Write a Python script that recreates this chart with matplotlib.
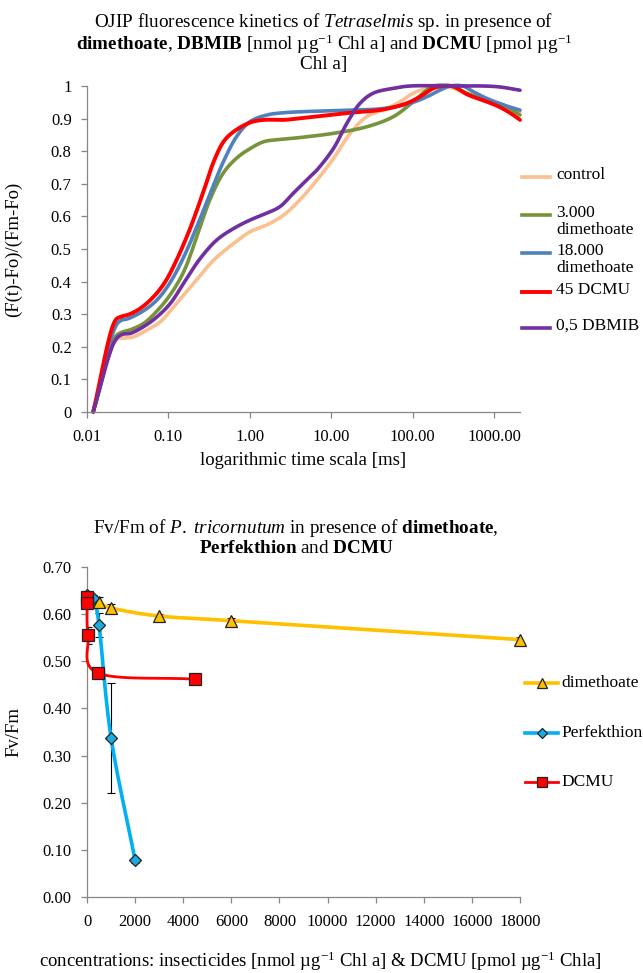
import numpy as np
import matplotlib
matplotlib.use('Agg')
import matplotlib.pyplot as plt
from matplotlib.lines import Line2D

plt.rcParams['font.family'] = ['Liberation Serif', 'DejaVu Serif']
plt.rcParams['mathtext.fontset'] = 'custom'
plt.rcParams['mathtext.rm'] = 'Liberation Serif'
plt.rcParams['mathtext.it'] = 'Liberation Serif:italic'
plt.rcParams['mathtext.bf'] = 'Liberation Serif:bold'

# OJIP curves (time in ms, normalised fluorescence)
t_control = [0.0119, 0.0224, 0.0271, 0.0377, 0.0548, 0.0798, 0.116, 0.205, 0.36, 0.634, 1.01, 1.62, 2.6,
             4.17, 6.7, 10.7, 17.1, 27.4, 48.3, 70.5, 102, 150, 219, 317, 550, 960, 1400, 2085]
f_control = [0, 0.221, 0.226, 0.231, 0.252, 0.277, 0.323, 0.395, 0.466, 0.517, 0.553, 0.574, 0.604,
             0.652, 0.712, 0.778, 0.855, 0.906, 0.931, 0.952, 0.978, 0.993, 1.0, 0.993, 0.967, 0.947, 0.937, 0.921]
t_dim3 = [0.0119, 0.0224, 0.0258, 0.034, 0.0498, 0.0726, 0.1056, 0.154, 0.225, 0.328, 0.478, 0.697, 1.01,
          1.48, 2.6, 4.17, 10.8, 27.4, 58.1, 102, 150, 180, 290, 462, 813, 1300, 2085]
f_dim3 = [0, 0.231, 0.243, 0.252, 0.272, 0.31, 0.36, 0.43, 0.54, 0.655, 0.735, 0.78, 0.808,
          0.829, 0.837, 0.842, 0.855, 0.875, 0.906, 0.952, 0.988, 1.0, 1.0, 0.978, 0.955, 0.942, 0.911]
t_dim18 = [0.0119, 0.0224, 0.0258, 0.0326, 0.0498, 0.0726, 0.1056, 0.154, 0.225, 0.328, 0.478, 0.697, 1.01,
           1.62, 2.6, 9.7, 17.1, 43.9, 93, 150, 219, 290, 415, 550, 813, 1300, 2085]
f_dim18 = [0, 0.262, 0.28, 0.287, 0.311, 0.344, 0.398, 0.475, 0.57, 0.672, 0.77, 0.847, 0.891,
           0.911, 0.918, 0.924, 0.926, 0.931, 0.947, 0.967, 0.988, 1.0, 1.0, 0.983, 0.962, 0.942, 0.926]
t_dcmu45 = [0.0119, 0.0224, 0.0258, 0.0326, 0.0453, 0.066, 0.0917, 0.128, 0.186, 0.271, 0.36, 0.478, 0.634,
            1.01, 1.48, 2.6, 4.17, 9.7, 17.1, 43.9, 84.8, 123, 180, 239, 317, 462, 813, 1185, 1727, 2085]
f_dcmu45 = [0, 0.282, 0.292, 0.299, 0.318, 0.354, 0.40, 0.47, 0.565, 0.678, 0.768, 0.83, 0.86,
            0.888, 0.896, 0.896, 0.901, 0.911, 0.918, 0.928, 0.947, 0.967, 0.993, 1.0, 0.999, 0.975, 0.952,
            0.935, 0.911, 0.896]
t_dbmib = [0.0119, 0.0224, 0.0271, 0.034, 0.0498, 0.0726, 0.1056, 0.154, 0.246, 0.394, 0.634, 1.01, 1.62,
           2.35, 3.42, 5.5, 6.66, 10.7, 15.6, 22.6, 32.8, 58.1, 93, 290, 740, 1185, 2085]
f_dbmib = [0, 0.221, 0.238, 0.241, 0.262, 0.292, 0.333, 0.395, 0.471, 0.528, 0.563, 0.589, 0.61,
           0.63, 0.671, 0.722, 0.742, 0.809, 0.886, 0.947, 0.978, 0.993, 1.0, 1.0, 1.0, 0.997, 0.987]
ojip_labels = ['control', '3.000\ndimethoate', '18.000\ndimethoate', '45 DCMU', '0,5 DBMIB']
time_ticks = [0.01, 0.1, 1, 10, 100, 1000]
time_ticklabels = ['0.01', '0.10', '1.00', '10.00', '100.00', '1000.00']

# Fv/Fm vs concentration
c_dim = [0, 500, 1000, 3000, 6000, 18000]
fvfm_dim = [0.635, 0.626, 0.613, 0.596, 0.586, 0.546]
err_dim = [0.005, 0.01, 0.008, 0.005, 0.005, 0.005]
c_perf = [0, 250, 500, 1000, 2000]
fvfm_perf = [0.64, 0.635, 0.577, 0.338, 0.078]
err_perf = [0.005, 0.006, 0.025, 0.117, 0.005]
c_dcmu = [0, 4.5, 45, 450, 4500]
fvfm_dcmu = [0.636, 0.624, 0.555, 0.475, 0.462]
err_dcmu = [0.01, 0.01, 0.018, 0.005, 0.005]
fv_labels = ['dimethoate', 'Perfekthion', 'DCMU']

W, H = 643, 973
fig = plt.figure(figsize=(W / 100, H / 100), dpi=100)

TICK_FS = 12
LAB_FS = 13.5
TITLE_FS = 13.8
LEG_FS = 12.5


def fx(px):
    return px / W


def fy(py):
    return 1 - py / H


def catmull(P, n=16, alpha=0.5):
    # Catmull-Rom like Excel's smoothed line, in pixel space (alpha 0 uniform, 0.5 centripetal)
    P = np.vstack([2 * P[0] - P[1], P, 2 * P[-1] - P[-2]])
    out = []
    for i in range(1, len(P) - 2):
        p0, p1, p2, p3 = P[i - 1], P[i], P[i + 1], P[i + 2]
        t0 = 0.0
        t1 = t0 + max(np.hypot(*(p1 - p0)), 1e-6) ** alpha
        t2 = t1 + max(np.hypot(*(p2 - p1)), 1e-6) ** alpha
        t3 = t2 + max(np.hypot(*(p3 - p2)), 1e-6) ** alpha
        t = np.linspace(t1, t2, n, endpoint=False)[:, None]
        a1 = (t1 - t) / (t1 - t0) * p0 + (t - t0) / (t1 - t0) * p1
        a2 = (t2 - t) / (t2 - t1) * p1 + (t - t1) / (t2 - t1) * p2
        a3 = (t3 - t) / (t3 - t2) * p2 + (t - t2) / (t3 - t2) * p3
        b1 = (t2 - t) / (t2 - t0) * a1 + (t - t0) / (t2 - t0) * a2
        b2 = (t3 - t) / (t3 - t1) * a2 + (t - t1) / (t3 - t1) * a3
        out.append((t2 - t) / (t2 - t1) * b1 + (t - t1) / (t2 - t1) * b2)
    out.append(P[-2][None])
    return np.vstack(out)


def smooth_line(ax, x, y, alpha=0.5, **kw):
    pts = ax.transData.transform(np.column_stack([x, y]))
    d = ax.transData.inverted().transform(catmull(pts, alpha=alpha))
    return ax.plot(d[:, 0], d[:, 1], **kw)


def style(ax):
    for s in ['top', 'right']:
        ax.spines[s].set_visible(False)
    for s in ['left', 'bottom']:
        ax.spines[s].set_color('#868686')
        ax.spines[s].set_linewidth(0.9)
    ax.tick_params(axis='both', direction='out', length=4, width=0.9, color='#868686',
                   labelsize=TICK_FS, labelcolor='black')
    ax.tick_params(axis='x', pad=8)
    ax.tick_params(axis='y', pad=7)


# ---------- top chart ----------
ax1 = fig.add_axes([fx(87), fy(412), fx(520) - fx(87), fy(86) - fy(412)])
ax1.set_xscale('log')
ax1.set_xlim(0.01, 2085)
ax1.set_ylim(0, 1)
style(ax1)
ax1.set_xticks(time_ticks)
ax1.set_xticklabels(time_ticklabels)
ax1.xaxis.set_minor_locator(matplotlib.ticker.NullLocator())
ax1.set_yticks(np.arange(0, 1.01, 0.1))
ax1.set_yticklabels(['0'] + ['%.1f' % v for v in np.arange(0.1, 0.95, 0.1)] + ['1'])

ojip = [(t_control, f_control, '#FAC090', 2.6),
        (t_dim3, f_dim3, '#77933C', 2.6),
        (t_dim18, f_dim18, '#4F81BD', 2.6),
        (t_dcmu45, f_dcmu45, '#FF0000', 2.8),
        (t_dbmib, f_dbmib, '#7030A0', 2.6)]
for t, f, c, lw in ojip:
    smooth_line(ax1, t, f, color=c, lw=lw, solid_capstyle='round', clip_on=False)

ax1.set_ylabel('(F(t)-Fo)/(Fm-Fo)', fontsize=LAB_FS)
ax1.yaxis.set_label_coords(-0.15, 0.5)
ax1.set_xlabel('logarithmic time scala [ms]', fontsize=LAB_FS)
ax1.xaxis.set_label_coords(0.5, -0.122)

fig.text(fx(324), fy(11),
         'OJIP fluorescence kinetics of $\\mathit{Tetraselmis}$ sp. in presence of\n'
         '$\\mathbf{dimethoate}$, $\\mathbf{DBMIB}$ [nmol µg$^{-1}$ Chl a] and $\\mathbf{DCMU}$ [pmol µg$^{-1}$\n'
         'Chl a]', ha='center', va='top', fontsize=TITLE_FS, linespacing=0.98)

leg_y = [177, 215, 253, 292, 328]
for (t, f, c, lw), lab, yy in zip(ojip, ojip_labels, leg_y):
    fig.add_artist(Line2D([fx(522), fx(550)], [fy(yy), fy(yy)], color=c, lw=lw))
    fig.text(fx(556), fy(yy - 10), lab, ha='left', va='top', fontsize=LEG_FS, linespacing=1.1)

# ---------- bottom chart ----------
ax2 = fig.add_axes([fx(87), fy(897), fx(520) - fx(87), fy(567) - fy(897)])
ax2.set_xlim(0, 18000)
ax2.set_ylim(0, 0.7)
style(ax2)
ax2.set_xticks(np.arange(0, 18001, 2000))
ax2.set_yticks(np.arange(0, 0.71, 0.1))
ax2.yaxis.set_major_formatter(matplotlib.ticker.FormatStrFormatter('%.2f'))

series = [(c_dim, fvfm_dim, err_dim, '#FFC000', '#FFC000', '^', 8.5, 2.6),
          (c_perf, fvfm_perf, err_perf, '#00B0F0', '#1FA9E1', 'D', 6, 2.6),
          (c_dcmu, fvfm_dcmu, err_dcmu, '#FF0000', '#FF0000', 's', 8.5, 2.0)]
for x, y, e, lc, mc, mk, ms, lw in series:
    ax2.errorbar(x, y, yerr=e, fmt='none', ecolor='black', elinewidth=0.8, capsize=3, capthick=0.8, zorder=2)
    smooth_line(ax2, x, y, alpha=0.0, color=lc, lw=lw, zorder=3, clip_on=False)
    ax2.plot(x, y, ls='none', marker=mk, ms=ms, mfc=mc, mec='#222222', mew=0.9, zorder=4, clip_on=False)

ax2.set_ylabel('Fv/Fm', fontsize=LAB_FS)
ax2.yaxis.set_label_coords(-0.15, 0.5)
ax2.set_xlabel('concentrations: insecticides [nmol µg$^{-1}$ Chl a] & DCMU [pmol µg$^{-1}$ Chla]', fontsize=LAB_FS)
ax2.xaxis.set_label_coords(0.54, -0.16)

fig.text(fx(296), fy(517),
         'Fv/Fm of $\\mathit{P.\\ tricornutum}$ in presence of $\\mathbf{dimethoate}$,\n'
         '$\\mathbf{Perfekthion}$ and $\\mathbf{DCMU}$', ha='center', va='top', fontsize=TITLE_FS, linespacing=1.05)

leg2_y = [683, 733, 782]
for (x, y, e, lc, mc, mk, ms, lw), lab, yy in zip(series, fv_labels, leg2_y):
    fig.add_artist(Line2D([fx(525), fx(558)], [fy(yy), fy(yy)], color=lc, lw=lw))
    fig.add_artist(Line2D([fx(541.5)], [fy(yy)], ls='none', marker=mk, ms=ms * 0.85, mfc=mc,
                          mec='#222222', mew=0.9))
    fig.text(fx(561), fy(yy), lab, ha='left', va='center', fontsize=LEG_FS)

fig.savefig('out.png', dpi=100, facecolor='white')
